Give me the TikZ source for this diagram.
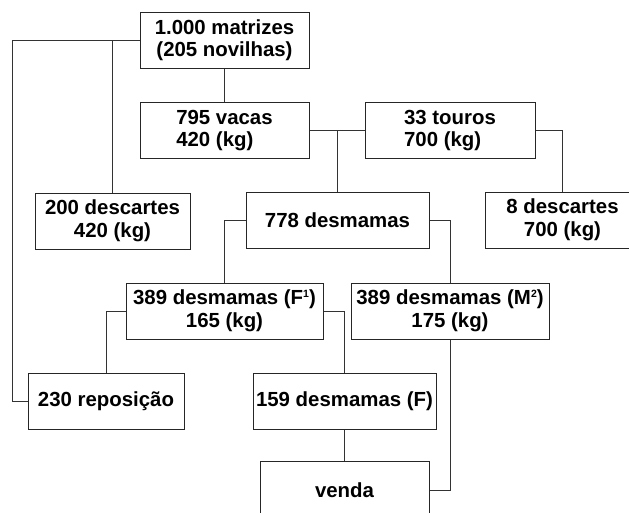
\documentclass[tikz,border=0pt]{standalone}
\usepackage{fontspec}
\setmainfont{Liberation Sans}
\newcommand{\mysupnum}[1]{\raisebox{7pt}{\fontsize{10.5}{10.5}\selectfont #1}}
\begin{document}
\begin{tikzpicture}[x=1pt,y=-1pt,
  box/.style={draw=black!85,line width=1pt,rectangle,inner sep=0pt,
    minimum height=56pt,align=center,
    font=\fontsize{20.4}{22.5}\selectfont\bfseries},
  lbox/.style={box,align=left},
  conn/.style={draw=black!80,line width=0.75pt}]
\useasboundingbox (0,0) rectangle (629,512);
\clip (0,0) rectangle (629,512);
\fill[white] (0,0) rectangle (629,512);
\node[box,minimum width=169pt] (mat) at (224.5,40) {1.000 matrizes\\(205 novilhas)};
\node[lbox,minimum width=169pt] (vac) at (224.5,130.5) {795 vacas\\420 (kg)};
\node[lbox,minimum width=170pt] (tou) at (450,130.5) {33 touros\\700 (kg)};
\node[box,minimum width=155pt] (d200) at (112.5,221) {200 descartes\\420 (kg)};
\node[box,minimum width=183pt] (d778) at (337.5,220) {778 desmamas};
\node[box,minimum width=155pt] (d8) at (562.5,220) {8 descartes\\700 (kg)};
\node[box,minimum width=197pt] (f389) at (224.5,311) {389 desmamas (F\mysupnum{1})\\165 (kg)};
\node[box,minimum width=198pt] (m389) at (450,311) {389 desmamas (M\mysupnum{2})\\175 (kg)};
\node[box,minimum width=156pt] (rep) at (106,401) {230 reposição};
\node[box,minimum width=183pt] (d159) at (344.5,401) {159 desmamas (F)};
\node[box,minimum width=169pt,minimum height=58pt] (ven) at (344.5,490) {venda};
\coordinate (L) at (12,40);
\draw[conn] (mat.south) -- (vac.north);
\draw[conn] (mat.west) -- (L) |- (rep.west);
\draw[conn] (d200.north) -- (d200.north |- mat.west);
\draw[conn] (vac.east) -- (tou.west);
\draw[conn] (d778.north) -- (d778.north |- vac.east);
\draw[conn] (tou.east) -| (d8.north);
\draw[conn] (d778.west) -| (f389.north);
\draw[conn] (d778.east) -| (m389.north);
\draw[conn] (f389.west) -| (rep.north);
\draw[conn] (f389.east) -| (d159.north);
\draw[conn] (d159.south) -- (ven.north);
\draw[conn] (m389.south) |- (ven.east);
\end{tikzpicture}
\end{document}
